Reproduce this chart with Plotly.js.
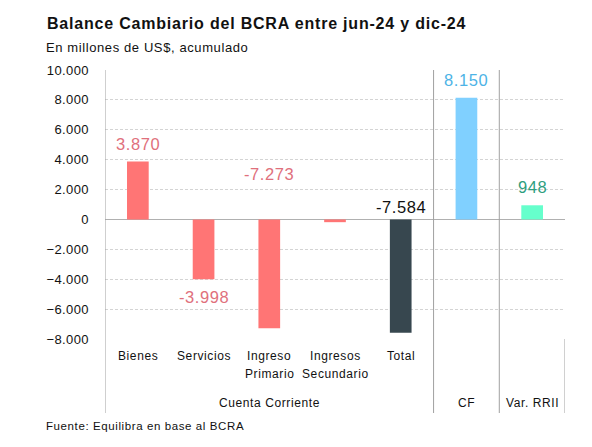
<!DOCTYPE html>
<html>
<head>
<meta charset="utf-8">
<script src="https://cdn.plot.ly/plotly-3.0.1.min.js"></script>
<style>
  html, body { margin: 0; padding: 0; background: #fff; }
  #chart { width: 592px; height: 447px; }
  .annotation-text { letter-spacing: 0.6px; }
  .gtitle { letter-spacing: 0.8px; }
  .ytick text { letter-spacing: 0.4px; }
</style>
</head>
<body>
<div id="chart"></div>
<script>
// Balance cambiario del BCRA, jun-24 a dic-24 (millones de US$, acumulado)
const categories = ["Bienes", "Servicios", "Ingreso<br>Primario", "Ingresos<br>Secundario", "Total", "CF", "Var. RRII"];
const values = [3870, -3998, -7273, -183, -7584, 8150, 948];
const groups = ["Cuenta Corriente", "CF", "Var. RRII"];
const groupCenters = [2, 5, 6];
// categories whose own name is carried by the group label underneath
const groupOnly = [false, false, false, false, false, true, true];
const yTicks = [10000, 8000, 6000, 4000, 2000, 0, -2000, -4000, -6000, -8000];

const W = 592, H = 447;
const M = { l: 105, r: 27, t: 70, b: 108 };
const plotW = W - M.l - M.r, plotH = H - M.t - M.b;
const px = x => (x - M.l) / plotW;          // pixel x -> paper
const py = y => (H - M.b - y) / plotH;      // pixel y -> paper

const FONT = "Liberation Sans, Arial, sans-serif";
const red = "#ff7575", redText = "#e0707c";
const barColors = [red, red, red, red, "#37474f", "#80d0ff", "#66ffcc"];
const textColors = [redText, redText, redText, redText, "#111111", "#4db3e6", "#2e9e7e"];

const fmt = v => {
  const s = Math.abs(v).toString().replace(/\B(?=(\d{3})+(?!\d))/g, ".");
  return (v < 0 ? "-" : "") + s;
};

// value labels: "end" sits beyond the bar tip, "zero" sits above the zero line
const labelMode = ["end", "end", "zero", "none", "zero", "end", "end"];
const zeroShift = [0, 0, 45, 0, 12, 0, 0];

const xIdx = categories.map((_, i) => i);
const annotations = [];
values.forEach((v, i) => {
  if (labelMode[i] === "none") return;
  annotations.push({
    x: i, y: labelMode[i] === "zero" ? 0 : v, xref: "x", yref: "y",
    text: fmt(v), showarrow: false, yanchor: "middle",
    font: { family: FONT, size: 16.5, color: textColors[i] },
    yshift: labelMode[i] === "zero" ? zeroShift[i] : (v >= 0 ? 18 : -18)
  });
});
// category names under the axis, one line per row
categories.forEach((c, i) => {
  if (groupOnly[i]) return;
  c.split("<br>").forEach((line, k) => {
    annotations.push({
      x: i, y: py(356 + 18 * k), xref: "x", yref: "paper", yanchor: "middle",
      text: line, showarrow: false,
      font: { family: FONT, size: 12, color: "#111" }
    });
  });
});
groups.forEach((g, i) => {
  annotations.push({
    x: groupCenters[i], y: py(403), xref: "x", yref: "paper", yanchor: "middle",
    text: g, showarrow: false,
    font: { family: FONT, size: 12, color: "#111" }
  });
});
annotations.push({
  x: px(44), y: py(47), xref: "paper", yref: "paper", xanchor: "left", yanchor: "middle",
  text: "En millones de US$, acumulado", showarrow: false,
  font: { family: FONT, size: 13, color: "#111" }
});
annotations.push({
  x: px(44), y: py(426), xref: "paper", yref: "paper", xanchor: "left", yanchor: "middle",
  text: "Fuente: Equilibra en base al BCRA", showarrow: false,
  font: { family: FONT, size: 11.5, color: "#111" }
});

const lineStyle = { color: "#a0a0a0", width: 1 };
const bottomExt = py(413);
const shapes = [
  { type: "line", xref: "x", yref: "paper", x0: -0.5, x1: -0.5, y0: bottomExt, y1: 1, line: lineStyle },
  { type: "line", xref: "x", yref: "paper", x0: 4.5, x1: 4.5, y0: bottomExt, y1: 1, line: lineStyle },
  { type: "line", xref: "x", yref: "paper", x0: 5.5, x1: 5.5, y0: bottomExt, y1: 1, line: lineStyle },
  { type: "line", xref: "x", yref: "paper", x0: 6.5, x1: 6.5, y0: bottomExt, y1: 0, line: lineStyle }
];

const trace = {
  type: "bar", x: xIdx, y: values,
  marker: { color: barColors, line: { width: 0 } },
  width: 0.33, hoverinfo: "skip", cliponaxis: false
};

const layout = {
  width: W, height: H, margin: M,
  paper_bgcolor: "#fff", plot_bgcolor: "#fff",
  separators: ",.",
  showlegend: false,
  font: { family: FONT, color: "#111" },
  title: {
    text: "Balance Cambiario del BCRA entre jun-24 y dic-24",
    x: 47 / W, xanchor: "left", xref: "container",
    y: 1 - 23 / H, yanchor: "middle", yref: "container",
    font: { family: FONT, size: 16, weight: "bold", color: "#111" }
  },
  xaxis: {
    range: [-0.5, 6.5], tickmode: "array", tickvals: xIdx,
    showticklabels: false, showgrid: false, zeroline: false, showline: false, ticks: "",
    fixedrange: true
  },
  yaxis: {
    range: [-8000, 10000], tickmode: "array", tickvals: yTicks,
    tickformat: ",d", showgrid: true, gridcolor: "#d4d4d4", griddash: "3px,2px", gridwidth: 1,
    zeroline: true, zerolinecolor: "#b0b0b0", zerolinewidth: 1.5,
    showline: false, ticks: "", ticklabelstandoff: 15,
    tickfont: { size: 13, color: "#111" }, fixedrange: true
  },
  annotations, shapes
};

Plotly.newPlot("chart", [trace], layout, { staticPlot: true });
</script>
</body>
</html>
